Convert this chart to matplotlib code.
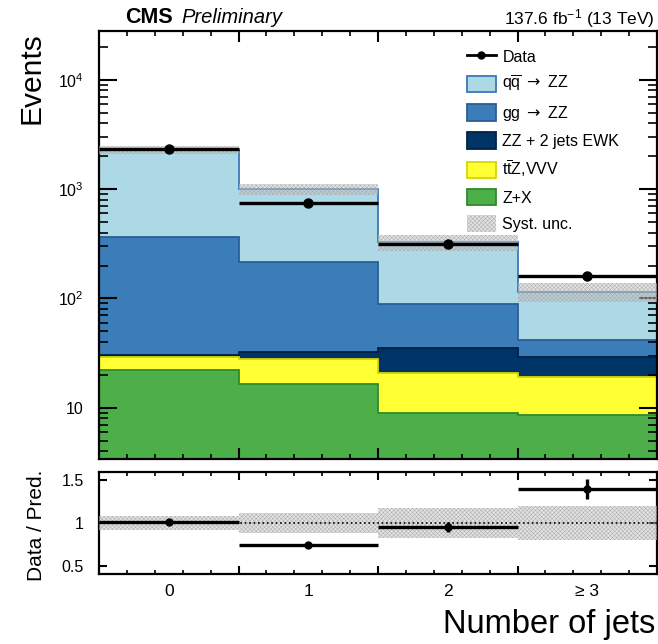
import numpy as np
import matplotlib
matplotlib.use("Agg")
import matplotlib.pyplot as plt
from matplotlib.ticker import (FixedLocator, MultipleLocator, LogLocator,
                               FuncFormatter, NullFormatter)
from matplotlib.patches import Patch
from matplotlib.lines import Line2D
from matplotlib.transforms import blended_transform_factory

plt.rcParams['font.family'] = ['Liberation Sans', 'DejaVu Sans']
plt.rcParams['mathtext.fontset'] = 'custom'
plt.rcParams['mathtext.rm'] = 'Liberation Sans'
plt.rcParams['mathtext.it'] = 'Liberation Sans:italic'
plt.rcParams['mathtext.bf'] = 'Liberation Sans:bold'
plt.rcParams['mathtext.sf'] = 'DejaVu Sans'
plt.rcParams['hatch.linewidth'] = 0.35

# number of jets categories
bin_labels = ["0", "1", "2", "\u2265 3"]

# stacked predictions (bottom to top)
zx = [22.1, 16.4, 8.9, 8.6]
ttz_vvv = [7.1, 11.8, 12.0, 10.6]
zz_ewk = [1.1, 4.2, 14.4, 9.9]
gg_zz = [335, 182, 54, 13]
qq_zz = [1935, 786, 239, 73]

data = [2330, 745, 313, 161]
data_err = [48, 27, 18, 13]
syst_rel = [0.08, 0.12, 0.17, 0.20]

arrow = r"$\mathsf{\rightarrow}$"
components = [
    (zx, "Z+X", "#4daf4a", "#2e8b2b"),
    (ttz_vvv, r"t$\overline{\mathregular{t}}$Z,VVV", "#ffff33", "#d6d600"),
    (zz_ewk, "ZZ + 2 jets EWK", "#003366", "#002244"),
    (gg_zz, "gg " + arrow + " ZZ", "#3a7db8", "#2a5f96"),
    (qq_zz, r"q$\overline{\mathregular{q}}$ " + arrow + " ZZ", "#add8e6", "#3a78b5"),
]

nb = len(bin_labels)
edges = np.arange(nb + 1) - 0.5
centers = np.arange(nb)

W, H = 658, 644
fig = plt.figure(figsize=(W / 100, H / 100), dpi=100)
ax = fig.add_axes([99 / W, 1 - 459 / H, 558 / W, 428 / H])
ax2 = fig.add_axes([99 / W, 1 - 574.3 / H, 558 / W, 102.6 / H])

# stack
bottom = np.zeros(nb)
for vals, lab, face, edge in components:
    top = bottom + np.asarray(vals, float)
    ax.stairs(top, edges, baseline=np.maximum(bottom, 1e-2), fill=True,
              facecolor=face, edgecolor="none", lw=0, zorder=1)
    ax.stairs(top, edges, baseline=None, color=edge, lw=1.3, zorder=2)
    bottom = top
total = bottom

syst = np.asarray(syst_rel)
band_face = (0.78, 0.78, 0.78, 0.5)
band_hatch = (0.6, 0.6, 0.6, 0.7)
band_kw = dict(fill=True, facecolor=band_face, edgecolor=band_hatch,
               hatch="xxxxxxxx", lw=0, zorder=3)
ax.stairs(total * (1 + syst), edges, baseline=total * (1 - syst), **band_kw)

dat = np.asarray(data, float)
ax.errorbar(centers, dat, xerr=0.5, yerr=data_err, fmt="o", color="k",
            ms=6.5, lw=2.4, capsize=0, zorder=5)

ax.set_yscale("log")
ax.set_xlim(edges[0], edges[-1])
ax.set_ylim(3.4, 2.8e4)

def log_fmt(v, pos):
    e = int(round(np.log10(v)))
    return "10" if e == 1 else r"$10^{%d}$" % e

ax.yaxis.set_major_locator(LogLocator(base=10, numticks=10))
ax.yaxis.set_minor_locator(LogLocator(base=10, subs=np.arange(2, 10), numticks=20))
ax.yaxis.set_major_formatter(FuncFormatter(log_fmt))
ax.yaxis.set_minor_formatter(NullFormatter())

for a in (ax, ax2):
    a.xaxis.set_major_locator(FixedLocator(edges[1:-1]))
    a.xaxis.set_minor_locator(MultipleLocator(0.2, offset=0.1))
    a.xaxis.set_major_formatter(NullFormatter())
    a.tick_params(which="both", direction="in", top=True, right=True,
                  labelsize=11.5, width=1.5, pad=11)
    for s in a.spines.values():
        s.set_linewidth(1.6)

ax.tick_params(axis="y", which="major", length=13)
ax.tick_params(axis="y", which="minor", length=6.5, width=1.2)
ax.tick_params(axis="x", which="major", length=8)
ax.tick_params(axis="x", which="minor", length=3.5, width=1.2)

# ratio panel
ratio = dat / total
ratio_err = np.asarray(data_err) / total
ax2.stairs(1 + syst, edges, baseline=1 - syst, **band_kw)
ax2.axhline(1, color="k", ls=":", lw=1.2, zorder=4)
ax2.errorbar(centers, ratio, xerr=0.5, yerr=ratio_err, fmt="o", color="k",
             ms=5, lw=2.4, capsize=0, zorder=5)
ax2.set_xlim(edges[0], edges[-1])
ax2.set_ylim(0.4, 1.6)
ax2.yaxis.set_major_locator(FixedLocator([0.5, 1.0, 1.5]))
ax2.yaxis.set_major_formatter(FuncFormatter(lambda v, p: "%g" % v))
ax2.tick_params(axis="y", which="major", length=6)
ax2.tick_params(axis="x", which="major", length=6)
ax2.tick_params(axis="x", which="minor", length=3, width=1.2)

tr = blended_transform_factory(ax2.transData, ax2.transAxes)
for c, lab in zip(centers, bin_labels):
    ax2.text(c, -0.09, lab, transform=tr, ha="center", va="top", fontsize=12.5)

# legend
handles = [Line2D([], [], color="k", marker="o", ms=5, lw=2)]
labels = ["Data"]
for vals, lab, face, edge in components[::-1]:
    handles.append(Patch(facecolor=face, edgecolor=edge, lw=1.3))
    labels.append(lab)
handles.append(Patch(facecolor=band_face, edgecolor=band_hatch,
                     hatch="xxxxxxxx", lw=0))
labels.append("Syst. unc.")
fig.legend(handles, labels, loc="upper left",
           bbox_to_anchor=(467 / W, 1 - 48 / H), frameon=False, fontsize=11.5,
           handlelength=1.8, handleheight=1.2, handletextpad=0.42,
           labelspacing=0.6, borderaxespad=0, borderpad=0)

# texts
fig.text(125 / W, 1 - 23 / H, "CMS", fontsize=15.5, fontweight="bold",
         ha="left", va="baseline")
fig.text(181 / W, 1 - 23 / H, "Preliminary", fontsize=14.5, style="italic",
         ha="left", va="baseline")
fig.text(655 / W, 1 - 24 / H, r"137.6 fb$^{\mathregular{-1}}$ (13 TeV)",
         fontsize=12.5, ha="right", va="baseline")
fig.text(31 / W, 1 - 32 / H, "Events", fontsize=21.5, rotation=90,
         ha="center", va="top")
fig.text(36 / W, 1 - 525 / H, "Data / Pred.", fontsize=15, rotation=90,
         ha="center", va="center")
fig.text(655 / W, 1 - 633 / H, "Number of jets", fontsize=23.5,
         ha="right", va="baseline")

fig.savefig("out.png", dpi=100)
